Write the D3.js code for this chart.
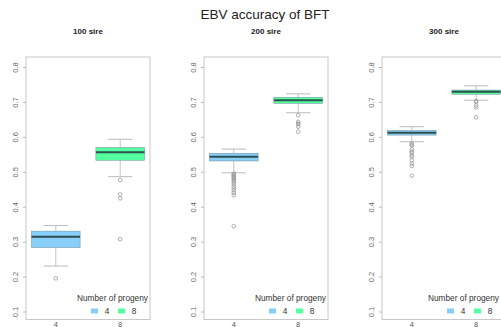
<!DOCTYPE html>
<html>
<head>
<meta charset="utf-8">
<script src="https://cdn.jsdelivr.net/npm/d3@7"></script>
<style>
  body { margin: 0; background: #fff; }
  svg { display: block; font-family: "Liberation Sans", Arial, sans-serif; }
</style>
</head>
<body>
<svg id="chart" width="501" height="327"></svg>
<script>
// panel titles and groups
const panelNames = ["100 sire", "200 sire", "300 sire"];
const progeny = ["4", "8"];
const yTicks = [0.1, 0.2, 0.3, 0.4, 0.5, 0.6, 0.7, 0.8];

// box stats: [lower whisker, q1, median, q3, upper whisker]
const stats100 = [[0.230, 0.283, 0.314, 0.330, 0.346], [0.486, 0.533, 0.556, 0.569, 0.593]];
const stats200 = [[0.497, 0.531, 0.543, 0.553, 0.565], [0.669, 0.696, 0.705, 0.713, 0.723]];
const stats300 = [[0.586, 0.605, 0.612, 0.618, 0.629], [0.705, 0.722, 0.729, 0.734, 0.746]];

// outliers
const out100 = [[0.195], [0.476, 0.435, 0.424, 0.307]];
const out200 = [[0.495, 0.493, 0.490, 0.487, 0.485, 0.482, 0.478, 0.474, 0.470, 0.465, 0.458, 0.452, 0.447, 0.440, 0.433, 0.344],
                [0.662, 0.643, 0.638, 0.636, 0.629, 0.615]];
const out300 = [[0.581, 0.578, 0.575, 0.564, 0.558, 0.555, 0.547, 0.543, 0.533, 0.524, 0.517, 0.489],
                [0.703, 0.700, 0.690, 0.684, 0.656]];

const allStats = [stats100, stats200, stats300];
const allOut = [out100, out200, out300];

const fills = ["#87CEFA", "#54FF9F"];
const width = 501;
const svg = d3.select("#chart");

svg.append("text")
    .attr("x", 265).attr("y", 19)
    .attr("text-anchor", "middle")
    .attr("font-size", 13.5)
    .attr("fill", "#222")
    .text("EBV accuracy of BFT");

const panelLefts = [26, 204, 382];
const panelW = 124, plotTop = 57, plotBottom = 319.5;

const y = d3.scaleLinear().domain([0.1, 0.8]).range([311.5, 67]);
const color = d3.scaleOrdinal().domain(progeny).range(fills);

panelNames.forEach(function(name, i) {
    const left = panelLefts[i];
    const x = d3.scaleBand().domain(progeny).range([0, panelW]).paddingInner(0.245).paddingOuter(0.085);
    const g = svg.append("g").attr("transform", `translate(${left},0)`);

    g.append("text")
        .attr("x", panelW / 2).attr("y", 34)
        .attr("text-anchor", "middle")
        .attr("font-size", 8).attr("font-weight", "bold")
        .attr("fill", "#222")
        .text(name);

    // frame
    g.append("rect")
        .attr("x", 0).attr("y", plotTop)
        .attr("width", panelW).attr("height", plotBottom - plotTop)
        .attr("fill", "none").attr("stroke", "#c8c8c8").attr("stroke-width", 1);

    // y axis, labels rotated like R
    const yAxis = g.append("g").call(d3.axisLeft(y).tickValues(yTicks).tickSize(3).tickFormat(d3.format(".1f")));
    yAxis.select(".domain").remove();
    yAxis.selectAll("line").attr("stroke", "#bbb");
    yAxis.selectAll(".tick text")
        .attr("font-size", 7.5).attr("fill", "#666")
        .attr("transform", "rotate(-90)")
        .attr("x", 0).attr("y", -8).attr("dy", "0")
        .attr("text-anchor", "middle");

    // x axis labels
    g.selectAll(".xlab").data(progeny).enter().append("text")
        .attr("x", d => x(d) + x.bandwidth() / 2)
        .attr("y", 326.5)
        .attr("text-anchor", "middle")
        .attr("font-size", 7.5).attr("fill", "#555")
        .text(d => d);

    const boxes = progeny.map((p, j) => ({key: p, s: allStats[i][j], out: allOut[i][j]}));
    const bw = x.bandwidth();

    const bg = g.selectAll(".box").data(boxes).enter().append("g")
        .attr("transform", d => `translate(${x(d.key)},0)`);

    // whiskers
    bg.append("line")
        .attr("x1", bw / 2).attr("x2", bw / 2)
        .attr("y1", d => y(d.s[0])).attr("y2", d => y(d.s[1]))
        .attr("stroke", "#c4c4c4");
    bg.append("line")
        .attr("x1", bw / 2).attr("x2", bw / 2)
        .attr("y1", d => y(d.s[3])).attr("y2", d => y(d.s[4]))
        .attr("stroke", "#c4c4c4");
    bg.append("line")
        .attr("x1", bw / 4).attr("x2", bw * 3 / 4)
        .attr("y1", d => y(d.s[0])).attr("y2", d => y(d.s[0]))
        .attr("stroke", "#bbb");
    bg.append("line")
        .attr("x1", bw / 4).attr("x2", bw * 3 / 4)
        .attr("y1", d => y(d.s[4])).attr("y2", d => y(d.s[4]))
        .attr("stroke", "#bbb");

    // box
    bg.append("rect")
        .attr("x", 0).attr("width", bw)
        .attr("y", d => y(d.s[3]))
        .attr("height", d => y(d.s[1]) - y(d.s[3]))
        .attr("fill", d => color(d.key))
        .attr("stroke", "#7a9aa8").attr("stroke-width", 0.6);

    // median
    bg.append("line")
        .attr("x1", 0).attr("x2", bw)
        .attr("y1", d => y(d.s[2])).attr("y2", d => y(d.s[2]))
        .attr("stroke", "#2F4F4F").attr("stroke-width", 2);

    // outliers
    bg.selectAll("circle").data(d => d.out).enter().append("circle")
        .attr("cx", bw / 2).attr("cy", d => y(d)).attr("r", 1.8)
        .attr("fill", "none").attr("stroke", "#999").attr("stroke-width", 0.8);

    // legend (keep the title inside the page on the last panel)
    const lg = g.append("g");
    lg.append("text")
        .attr("x", Math.min(panelW - 2, width - left - 2)).attr("y", 301)
        .attr("text-anchor", "end")
        .attr("font-size", 8.3).attr("fill", "#333")
        .text("Number of progeny");
    const keyX = [65, 92];
    progeny.forEach(function(p, j) {
        lg.append("rect")
            .attr("x", keyX[j]).attr("y", 308.5)
            .attr("width", 7).attr("height", 5)
            .attr("fill", color(p));
        lg.append("text")
            .attr("x", keyX[j] + 16).attr("y", 314)
            .attr("text-anchor", "middle")
            .attr("font-size", 8.3).attr("fill", "#333")
            .text(p);
    });
});
</script>
</body>
</html>
